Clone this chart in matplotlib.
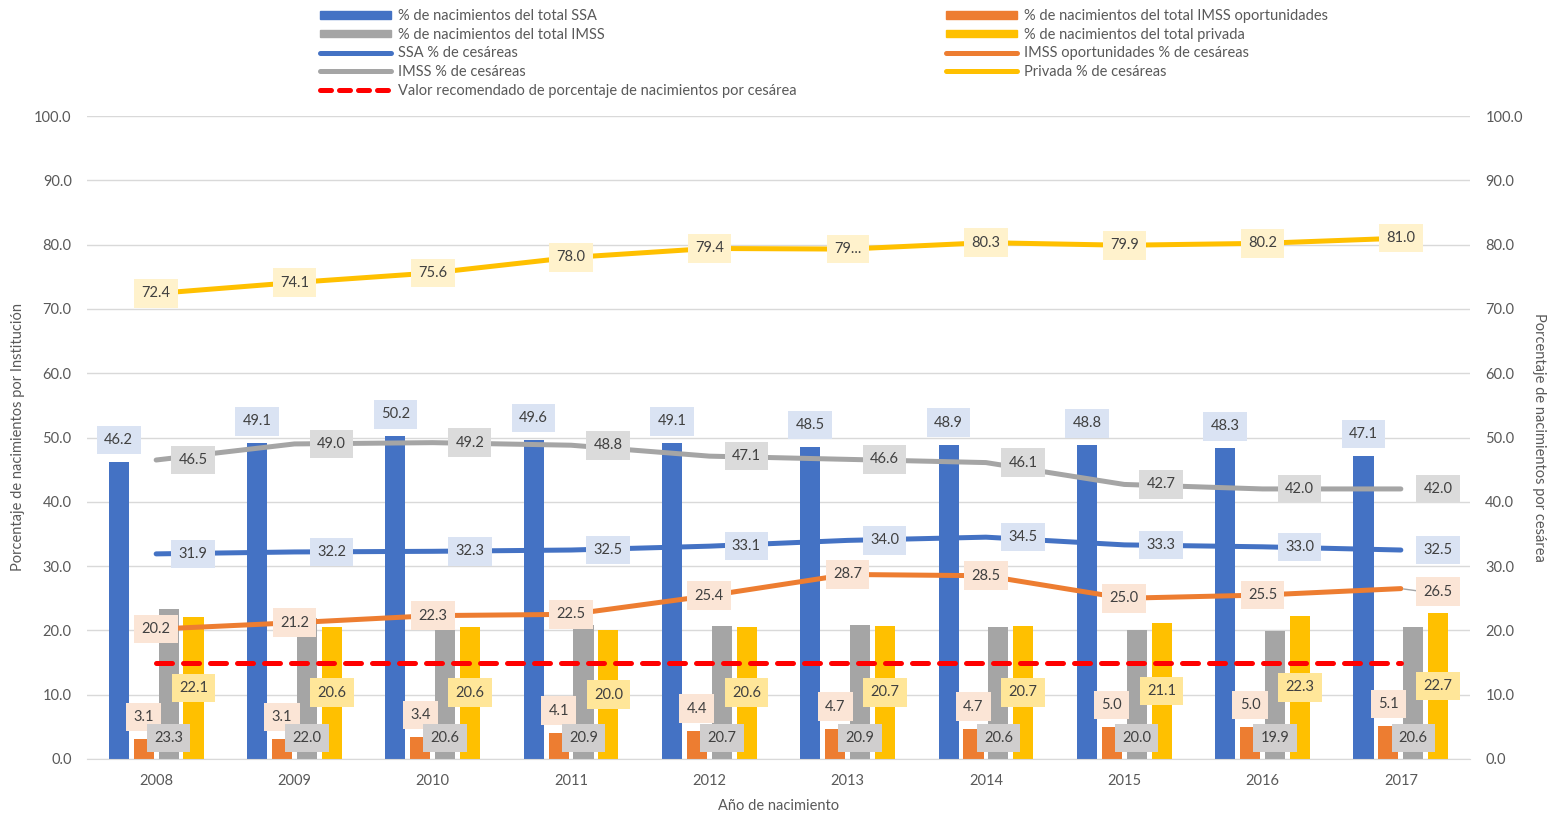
import numpy as np
import matplotlib
matplotlib.use("Agg")
import matplotlib.pyplot as plt
from matplotlib.patches import Patch
from matplotlib.lines import Line2D

plt.rcParams['font.family'] = ['Lato', 'DejaVu Sans']

years = ['2008', '2009', '2010', '2011', '2012', '2013', '2014', '2015', '2016', '2017']

# % of births by institution (bars)
ssa_total = [46.2, 49.1, 50.2, 49.6, 49.1, 48.5, 48.9, 48.8, 48.3, 47.1]
imsso_total = [3.1, 3.1, 3.4, 4.1, 4.4, 4.7, 4.7, 5.0, 5.0, 5.1]
imss_total = [23.3, 22.0, 20.6, 20.9, 20.7, 20.9, 20.6, 20.0, 19.9, 20.6]
priv_total = [22.1, 20.6, 20.6, 20.0, 20.6, 20.7, 20.7, 21.1, 22.3, 22.7]

# % of caesareans (lines)
ssa_ces = [31.9, 32.2, 32.3, 32.5, 33.1, 34.0, 34.5, 33.3, 33.0, 32.5]
imsso_ces = [20.2, 21.2, 22.3, 22.5, 25.4, 28.7, 28.5, 25.0, 25.5, 26.5]
imss_ces = [46.5, 49.0, 49.2, 48.8, 47.1, 46.6, 46.1, 42.7, 42.0, 42.0]
priv_ces = [72.4, 74.1, 75.6, 78.0, 79.4, 79.3, 80.3, 79.9, 80.2, 81.0]
priv_ces_text = ['72.4', '74.1', '75.6', '78.0', '79.4', '79...', '80.3', '79.9', '80.2', '81.0']
recomendado = [15] * 10

BLUE, ORANGE, GRAY, YELLOW = '#4472C4', '#ED7D31', '#A5A5A5', '#FFC000'
TXT = '#404040'
TICK = '#595959'

fig = plt.figure(figsize=(15.49, 8.17), dpi=100)
ax = fig.add_axes([87 / 1549, 58 / 817, (1470 - 87) / 1549, (759 - 116) / 817])
ax2 = ax.twinx()

x = np.arange(len(years))
w = 0.145
offs = [-0.27, -0.09, 0.09, 0.27]

ax.bar(x + offs[0], ssa_total, w, color=BLUE, zorder=2)
ax.bar(x + offs[1], imsso_total, w, color=ORANGE, zorder=2)
ax.bar(x + offs[2], imss_total, w, color=GRAY, zorder=2)
ax.bar(x + offs[3], priv_total, w, color=YELLOW, zorder=2)

ax.set_xlim(-0.5, len(years) - 0.5)
ax.set_ylim(0, 100)
ax2.set_ylim(0, 100)
ticks = np.arange(0, 101, 10)
for a in (ax, ax2):
    a.set_yticks(ticks)
    a.set_yticklabels([f'{t:.1f}' for t in ticks], color=TICK, fontsize=10.5)
    a.tick_params(length=0, pad=11)
    for s in a.spines.values():
        s.set_visible(False)
ax.spines['bottom'].set_visible(True)
ax.spines['bottom'].set_color('#D9D9D9')
ax.set_xticks(x)
ax.set_xticklabels(years, color=TICK, fontsize=10.5)
ax.tick_params(axis='x', pad=11)
ax.grid(axis='y', color='#D9D9D9', lw=1, zorder=0)
ax.set_axisbelow(True)

# axis titles placed in figure pixels
fig.text(18 / 1549, 1 - 437 / 817, 'Porcentaje de nacimientos por Institución', color=TICK,
         fontsize=10.5, rotation=90, ha='center', va='center')
fig.text(1539 / 1549, 1 - 437 / 817, 'Porcentaje de nacimientos por cesárea', color=TICK,
         fontsize=10.5, rotation=-90, ha='center', va='center')
fig.text(779 / 1549, 1 - 806 / 817, 'Año de nacimiento', color=TICK,
         fontsize=10.5, ha='center', va='center')

lw = 3.6
ax2.plot(x, ssa_ces, color=BLUE, lw=lw, solid_capstyle='round', zorder=3)
ax2.plot(x, imsso_ces, color=ORANGE, lw=lw, solid_capstyle='round', zorder=3)
ax2.plot(x, imss_ces, color=GRAY, lw=lw, solid_capstyle='round', zorder=3)
ax2.plot(x, priv_ces, color=YELLOW, lw=lw, solid_capstyle='round', zorder=3)
ax2.plot(x, recomendado, color='#FF0000', lw=lw, dashes=(3.2, 2.2),
         dash_capstyle='round', zorder=4)


def label(a, xv, yv, text, fc, dx=0, dy=0):
    a.annotate(text, (xv, yv), xytext=(dx, dy), textcoords='offset pixels',
               ha='center', va='center', fontsize=10.5, color=TXT, zorder=6,
               bbox=dict(boxstyle='square,pad=0.5', fc=fc, ec='none'))


for i in range(len(years)):
    label(ax2, x[i] + offs[0], ssa_total[i], f'{ssa_total[i]:.1f}', '#DAE3F3', dy=22)
    label(ax2, x[i] + offs[1], imsso_total[i], f'{imsso_total[i]:.1f}', '#FBE5D6', dy=22)
    label(ax2, x[i] + offs[2], 0, f'{imss_total[i]:.1f}', '#D0CECE', dy=21)
    label(ax2, x[i] + offs[3], priv_total[i] / 2, f'{priv_total[i]:.1f}', '#FFE699')
    label(ax2, x[i], ssa_ces[i], f'{ssa_ces[i]:.1f}', '#DAE3F3', dx=37)
    label(ax2, x[i], imss_ces[i], f'{imss_ces[i]:.1f}', '#DBDBDB', dx=37)
    label(ax2, x[i], priv_ces[i], priv_ces_text[i], '#FFF2CC')
    if i == len(years) - 1:
        ax2.annotate('', (x[i], imsso_ces[i]), xytext=(22, -3), textcoords='offset pixels',
                     arrowprops=dict(arrowstyle='-', color=GRAY, lw=1), zorder=5)
        label(ax2, x[i], imsso_ces[i], f'{imsso_ces[i]:.1f}', '#FBE5D6', dx=37, dy=-3)
    else:
        label(ax2, x[i], imsso_ces[i], f'{imsso_ces[i]:.1f}', '#FBE5D6')

# legends (two columns placed separately)
h_left = [Patch(color=BLUE), Patch(color=GRAY),
          Line2D([], [], color=BLUE, lw=lw, solid_capstyle='round'),
          Line2D([], [], color=GRAY, lw=lw, solid_capstyle='round'),
          Line2D([], [], color='#FF0000', lw=lw, dashes=(2.2, 1.6), dash_capstyle='round')]
t_left = ['% de nacimientos del total SSA', '% de nacimientos del total IMSS',
          'SSA % de cesáreas', 'IMSS % de cesáreas',
          'Valor recomendado de porcentaje de nacimientos por cesárea']
h_right = [Patch(color=ORANGE), Patch(color=YELLOW),
           Line2D([], [], color=ORANGE, lw=lw, solid_capstyle='round'),
           Line2D([], [], color=YELLOW, lw=lw, solid_capstyle='round')]
t_right = ['% de nacimientos del total IMSS oportunidades', '% de nacimientos del total privada',
           'IMSS oportunidades % de cesáreas', 'Privada % de cesáreas']

common = dict(loc='upper left', frameon=False, fontsize=10.5, labelcolor=TICK,
              handlelength=4.9, handleheight=0.45, handletextpad=0.45,
              labelspacing=0.32, borderaxespad=0, borderpad=0)
leg1 = fig.legend(h_left, t_left, bbox_to_anchor=(320 / 1549, 1 - 9 / 817), **common)
leg2 = fig.legend(h_right, t_right, bbox_to_anchor=(946 / 1549, 1 - 9 / 817), **common)

fig.savefig('out.png', dpi=100)
